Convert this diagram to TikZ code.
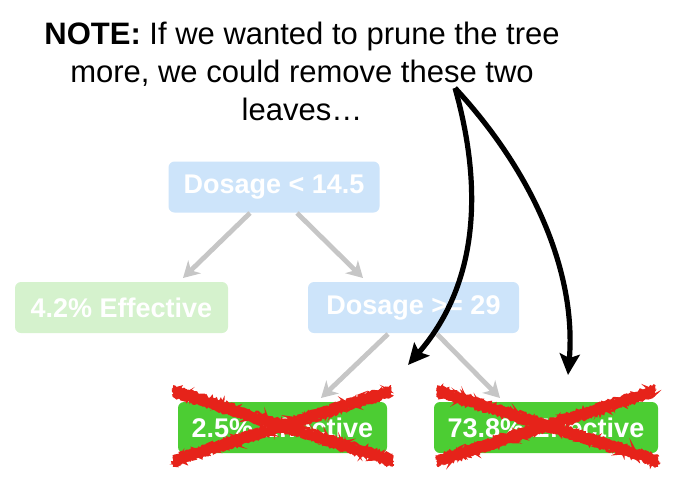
\documentclass[tikz,border=0pt]{standalone}
\usepackage{fontspec}
\setmainfont{Liberation Sans}
\usetikzlibrary{arrows.meta,decorations.pathmorphing}
\definecolor{lblue}{HTML}{CDE4FA}
\definecolor{lgreen}{HTML}{D5F2CD}
\definecolor{bgreen}{HTML}{4CCD33}
\definecolor{xred}{HTML}{E6231A}
\definecolor{agray}{HTML}{C6C6C6}
\tikzset{
  box/.style={rounded corners=6pt, minimum height=51pt, inner sep=0pt, text=white,
    font=\fontsize{27}{27}\selectfont\bfseries},
  bluebox/.style={box, fill=lblue, minimum width=211pt},
  palebox/.style={box, fill=lgreen, minimum width=213pt},
  leafbox/.style={box, fill=bgreen},
  grayarrow/.style={draw=agray, line width=4.8pt, -{Stealth[length=16pt,width=18pt,inset=5pt]}},
  blackarrow/.style={draw=black, line width=5.2pt, -{Stealth[length=21pt,width=20pt,inset=4pt]}},
  xstroke/.style={draw=xred, line width=2.6pt, decorate,
    decoration={random steps, segment length=1.5pt, amplitude=1.5pt}},
}
\begin{document}
\begin{tikzpicture}[x=1pt,y=-1pt]
\useasboundingbox (0,0) rectangle (698,496);
\pgfmathsetseed{7}
\node[align=center, inner sep=0pt, font=\fontsize{31}{38}\selectfont] (note) at (302,71)
  {\textbf{NOTE:} If we wanted to prune the tree\\more, we could remove these two\\leaves\ldots};

\node[bluebox] (root) at (274,187) {Dosage < 14.5};
\node[palebox] (left) at (121.5,307.5) {4.2\% Effective};
\node[bluebox] (mid) at (413.5,307.5) {Dosage >= 29};
\node[leafbox, minimum width=209pt] (l1) at (282.5,427.5) {2.5\% Effective};
\node[leafbox, minimum width=224pt] (l2) at (546,427.5) {73.8\% Effective};

\coordinate (rootL) at (250,213);
\coordinate (rootR) at (297,213);
\coordinate (midL) at (388,334);
\coordinate (midR) at (437,334);
\coordinate (tipA) at (183,278);
\coordinate (tipB) at (363,278);
\coordinate (tipC) at (321,398);
\coordinate (tipD) at (500,398);
\draw[grayarrow] (rootL) -- (tipA);
\draw[grayarrow] (rootR) -- (tipB);
\draw[grayarrow] (midL) -- (tipC);
\draw[grayarrow] (midR) -- (tipD);

% red crosses
\foreach \dy in {-4.5,-3,-1.5,0,1.5,3,4.5}{
  \draw[xstroke] (173,391+\dy) -- (393,461+\dy);
  \draw[xstroke] (173,461+\dy) -- (391,391+\dy);
  \draw[xstroke] (437,391+\dy) -- (658,461+\dy);
  \draw[xstroke] (437,461+\dy) -- (655,391+\dy);
}
\draw[draw=xred, line width=7pt] (174,391) -- (392,461);
\draw[draw=xred, line width=7pt] (174,461) -- (390,391);
\draw[draw=xred, line width=7pt] (438,391) -- (657,461);
\draw[draw=xred, line width=7pt] (438,461) -- (654,391);

\coordinate (src) at (455,88);
\coordinate (t1) at (408,365);
\coordinate (t2) at (568,375);
\draw[blackarrow] (src) .. controls (481,180) and (482,280) .. (t1);
\draw[blackarrow] (src) .. controls (540,180) and (576,280) .. (t2);
\end{tikzpicture}
\end{document}
